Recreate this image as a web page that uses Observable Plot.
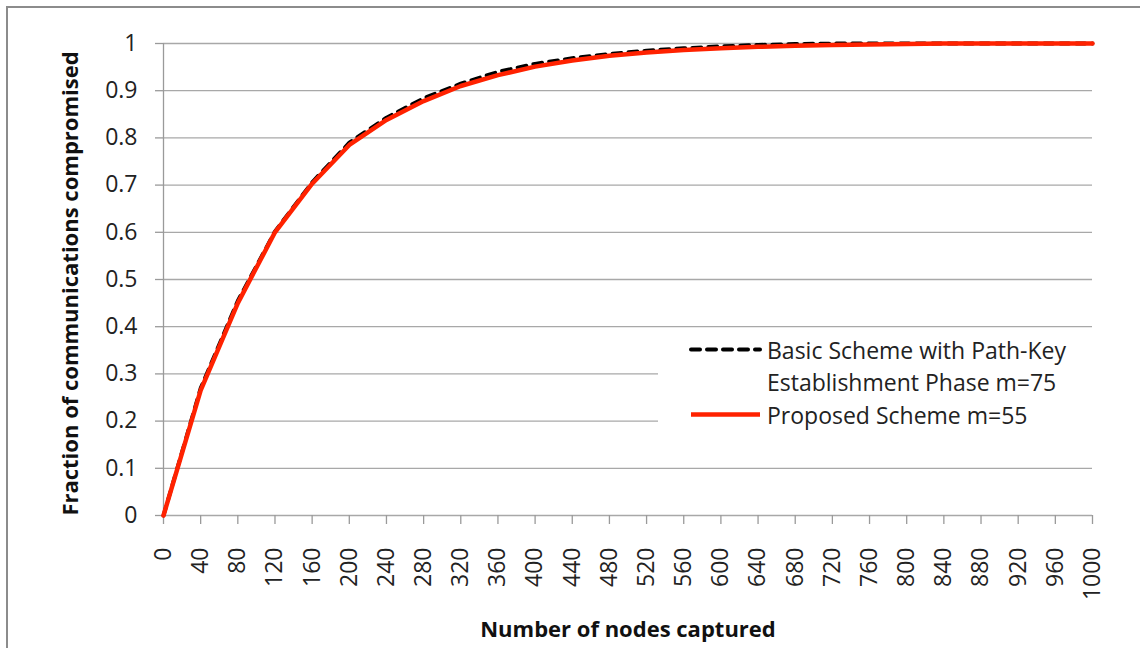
<!DOCTYPE html>
<html>
<head>
<meta charset="utf-8">
<script src="https://cdn.jsdelivr.net/npm/d3@7"></script>
<script src="https://cdn.jsdelivr.net/npm/@observablehq/plot@0.6"></script>
<style>
  html, body { margin: 0; padding: 0; background: #fff; }
  #wrap { position: relative; width: 1140px; height: 648px; overflow: hidden; font-family: "Open Sans", sans-serif; }
  #frame { position: absolute; left: 6px; top: 6px; width: 1200px; height: 700px; border-top: 2px solid #8c8c8c; border-left: 2px solid #8c8c8c; pointer-events: none; }
  #legend { position: absolute; left: 658px; top: 334px; width: 434px; height: 110px; background: #fff; font-size: 23px; color: #222; }
  .txt { position: absolute; left: 109px; white-space: nowrap; line-height: 32px; }
</style>
</head>
<body>
<div id="wrap">
  <div id="chart"></div>
  <div id="legend"></div>
  <div id="frame"></div>
</div>
<script>
const nodes = [0, 40, 80, 120, 160, 200, 240, 280, 320, 360, 400, 440, 480, 520, 560, 600, 640, 680, 720, 760, 800, 840, 880, 920, 960, 1000];
const basic = [0, 0.27, 0.455, 0.602, 0.706, 0.79, 0.843, 0.884, 0.915, 0.94, 0.957, 0.969, 0.978, 0.985, 0.99, 0.994, 0.997, 0.999, 1, 1, 1, 1, 1, 1, 1, 1];
const proposed = [0, 0.265, 0.45, 0.6, 0.703, 0.785, 0.838, 0.878, 0.91, 0.933, 0.951, 0.964, 0.974, 0.981, 0.986, 0.99, 0.993, 0.995, 0.997, 0.998, 0.999, 1, 1, 1, 1, 1];
const yTicks = [0, 0.1, 0.2, 0.3, 0.4, 0.5, 0.6, 0.7, 0.8, 0.9, 1];
const xTicks = nodes;
const seriesNames = ["Basic Scheme with Path-Key\nEstablishment Phase m=75", "Proposed Scheme m=55"];
const xTitle = "Number of nodes captured";
const yTitle = "Fraction of communications compromised";

const basicData = nodes.map((n, i) => ({x: n, y: basic[i]}));
const proposedData = nodes.map((n, i) => ({x: n, y: proposed[i]}));

const chart = Plot.plot({
  width: 1140,
  height: 648,
  marginLeft: 163,
  marginRight: 48,
  marginTop: 43,
  marginBottom: 133,
  x: {domain: [0, 1000]},
  y: {domain: [0, 1]},
  style: {fontFamily: "Open Sans, sans-serif", fontSize: "23px", color: "#222", background: "transparent"},
  marks: [
    Plot.gridY(yTicks, {stroke: "#a8a8a8", strokeOpacity: 1, strokeWidth: 1.3}),
    Plot.ruleX([0], {stroke: "#9a9a9a", strokeWidth: 1.3}),
    Plot.axisY(yTicks, {
      tickSize: 8, tickPadding: 18, stroke: "#9a9a9a", strokeWidth: 1.3,
      tickFormat: d => String(d),
      label: null
    }),
    Plot.axisX(xTicks, {
      tickSize: 9, tickPadding: 23, tickRotate: -90, stroke: "#9a9a9a", strokeWidth: 1.3,
      tickFormat: d => String(d),
      label: null
    }),
    Plot.text([xTitle], {frameAnchor: "bottom", dy: 121, text: d => d, fontWeight: "bold", fontSize: 22, fill: "#111"}),
    Plot.text([yTitle], {frameAnchor: "left", dx: -93, dy: 4, rotate: -90, textAnchor: "middle", text: d => d, fontWeight: "bold", fontSize: 22, fill: "#111"}),
    Plot.line(basicData, {x: "x", y: "y", stroke: "#000", strokeWidth: 3.8, strokeDasharray: "9,7", strokeLinecap: "round"}),
    Plot.line(proposedData, {x: "x", y: "y", stroke: "#ff2200", strokeWidth: 4.5})
  ]
});
document.getElementById("chart").appendChild(chart);

// legend
const legend = document.getElementById("legend");
const items = [
  {name: seriesNames[0], color: "#000", dash: "9,7", width: 4, cap: "round", top: 0},
  {name: seriesNames[1], color: "#ff2200", dash: null, width: 4.5, cap: "butt", top: 65}
];
items.forEach(it => {
  const sw = document.createElementNS("http://www.w3.org/2000/svg", "svg");
  sw.setAttribute("width", 110);
  sw.setAttribute("height", 32);
  sw.style.position = "absolute";
  sw.style.left = "0px";
  sw.style.top = (it.top) + "px";
  const ln = document.createElementNS("http://www.w3.org/2000/svg", "line");
  ln.setAttribute("x1", 33); ln.setAttribute("x2", 102);
  ln.setAttribute("y1", 15.5); ln.setAttribute("y2", 15.5);
  ln.setAttribute("stroke", it.color);
  ln.setAttribute("stroke-width", it.width);
  ln.setAttribute("stroke-linecap", it.cap);
  if (it.dash) ln.setAttribute("stroke-dasharray", it.dash);
  sw.appendChild(ln);
  legend.appendChild(sw);
  const t = document.createElement("div");
  t.className = "txt";
  t.style.top = it.top + "px";
  t.innerHTML = it.name.split("\n").join("<br>");
  legend.appendChild(t);
});
</script>
</body>
</html>
